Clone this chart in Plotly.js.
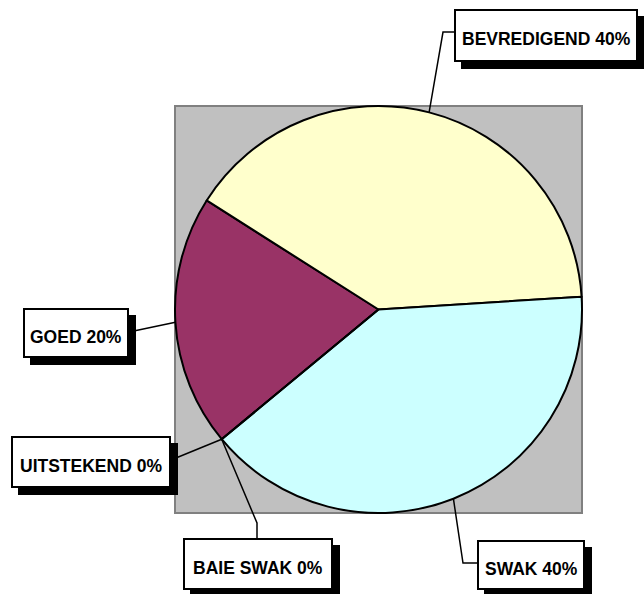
<!DOCTYPE html>
<html><head><meta charset="utf-8">
<script src="https://cdn.plot.ly/plotly-3.0.1.min.js"></script>
<style>html,body{margin:0;padding:0;background:#fff}</style>
</head><body><div id="chart" style="width:644px;height:594px"></div>
<script>
// ---- data ----
const categories = ['UITSTEKEND', 'GOED', 'BEVREDIGEND', 'SWAK', 'BAIE SWAK'];
const percentages = [0, 20, 40, 40, 0];
const sliceColors = ['#FFFFFF', '#993366', '#FFFFCC', '#CCFFFF', '#FFFFFF'];
const labelTexts = categories.map((c, i) => c + ' ' + percentages[i] + '%');

// ---- layout geometry (pixels) ----
const W = 644, H = 594;
const plotBox = {x0: 175, y0: 106, x1: 582, y1: 513};
const startAngle = 230.4; // first slice start, degrees clockwise from 12 o'clock
const cx = (plotBox.x0 + plotBox.x1) / 2, cy = (plotBox.y0 + plotBox.y1) / 2;
const R = Math.min(plotBox.x1 - plotBox.x0, plotBox.y1 - plotBox.y0) / 2;
const shadow = 7, bw = 2, textDrop = 3.5;

const boxes = {
  'BEVREDIGEND': {x: 454, y: 9,   w: 184, h: 53, path: [[443, 32], [454, 32]]},
  'GOED':        {x: 23,  y: 308, w: 106, h: 50, path: [[129, 332]]},
  'UITSTEKEND':  {x: 11,  y: 436, w: 160, h: 52, path: [[171, 460]]},
  'BAIE SWAK':   {x: 183, y: 538, w: 150, h: 52, path: [[257, 523], [257, 538]]},
  'SWAK':        {x: 477, y: 540, w: 108, h: 50, path: [[463, 563], [477, 563]]}
};

const px = x => x / W, py = y => 1 - y / H;

// mid angles from data
const total = percentages.reduce((a, b) => a + b, 0);
let cum = 0;
const edgePts = percentages.map(v => {
  const a0 = startAngle + 360 * cum / total;
  cum += v;
  const a1 = startAngle + 360 * cum / total;
  const mid = (a0 + a1) / 2 * Math.PI / 180;
  return [cx + R * Math.sin(mid), cy - R * Math.cos(mid)];
});

const shapes = [{
  type: 'rect', xref: 'paper', yref: 'paper', layer: 'below',
  x0: px(plotBox.x0), x1: px(plotBox.x1), y0: py(plotBox.y1), y1: py(plotBox.y0),
  fillcolor: '#C0C0C0', line: {color: '#808080', width: 2}
}];
const annotations = [];

categories.forEach((c, i) => {
  const b = boxes[c];
  const pts = [edgePts[i]].concat(b.path);
  let d = 'M ' + px(pts[0][0]) + ',' + py(pts[0][1]);
  for (let k = 1; k < pts.length; k++) d += ' L ' + px(pts[k][0]) + ',' + py(pts[k][1]);
  shapes.push({type: 'path', xref: 'paper', yref: 'paper', layer: 'above', path: d,
               line: {color: '#000', width: 1.5}});
});
categories.forEach((c, i) => {
  const b = boxes[c];
  shapes.push({type: 'rect', xref: 'paper', yref: 'paper', layer: 'above',
    x0: px(b.x + shadow), x1: px(b.x + b.w + shadow), y0: py(b.y + b.h + shadow), y1: py(b.y + shadow),
    fillcolor: '#000', line: {width: 0}});
  shapes.push({type: 'rect', xref: 'paper', yref: 'paper', layer: 'above',
    x0: px(b.x + bw / 2), x1: px(b.x + b.w - bw / 2), y0: py(b.y + b.h - bw / 2), y1: py(b.y + bw / 2),
    fillcolor: '#FFFFFF', line: {color: '#000', width: bw}});
  annotations.push({
    xref: 'paper', yref: 'paper', x: px(b.x + b.w / 2), y: py(b.y + b.h / 2 + textDrop),
    xanchor: 'center', yanchor: 'middle',
    text: labelTexts[i], showarrow: false, borderpad: 0, borderwidth: 0,
    font: {family: 'Liberation Sans, Arial, sans-serif', size: 17.5, color: '#000', weight: 700}
  });
});

const trace = {
  type: 'pie', labels: categories, values: percentages, sort: false,
  direction: 'clockwise', rotation: startAngle,
  marker: {colors: sliceColors, line: {color: '#000', width: 2}},
  textinfo: 'none', hoverinfo: 'label+percent', showlegend: false,
  domain: {x: [px(plotBox.x0), px(plotBox.x1)], y: [py(plotBox.y1), py(plotBox.y0)]}
};

Plotly.newPlot('chart', [trace], {
  width: W, height: H, margin: {l: 0, r: 0, t: 0, b: 0},
  paper_bgcolor: '#FFFFFF', showlegend: false,
  shapes: shapes, annotations: annotations
}, {displayModeBar: false, staticPlot: true});
</script></body></html>
